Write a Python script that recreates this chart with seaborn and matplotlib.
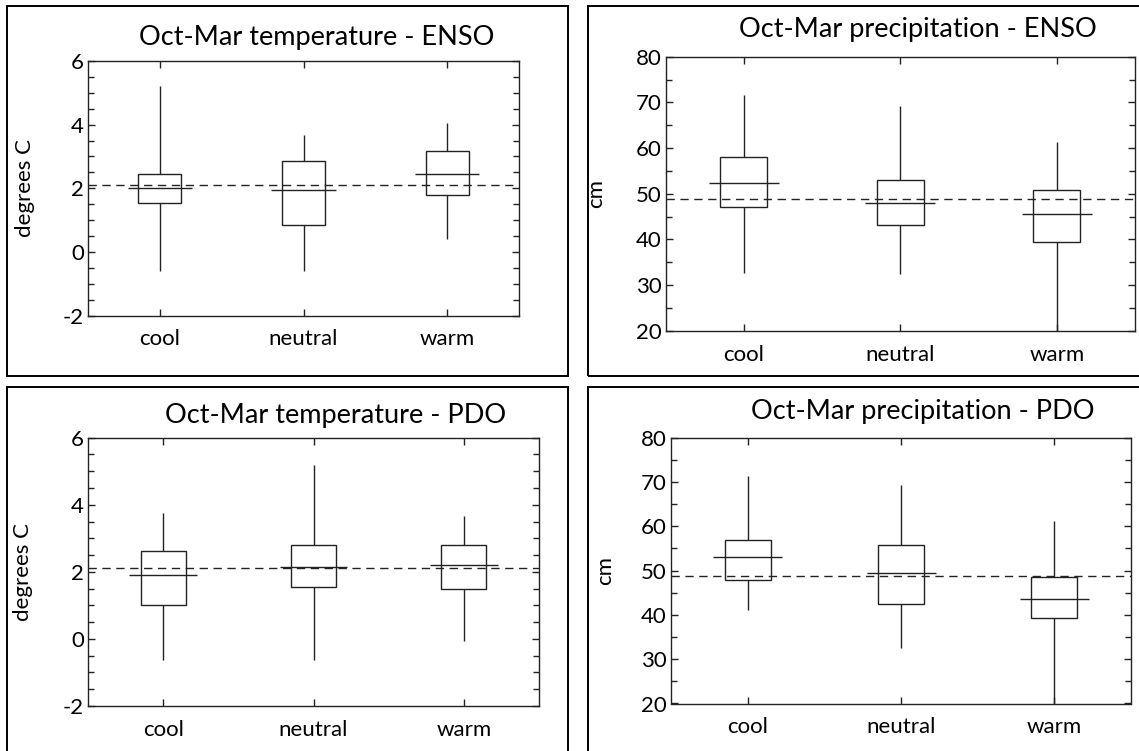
import numpy as np
import pandas as pd
import matplotlib
matplotlib.use("Agg")
import matplotlib.pyplot as plt
import seaborn as sns
from matplotlib.patches import Rectangle
from matplotlib.ticker import MultipleLocator

categories = ["cool", "neutral", "warm"]

# five-number summaries: whisker low, box low, centre line, box high, whisker high
temp_enso_lo = [-0.6, -0.6, 0.4]
temp_enso_q1 = [1.55, 0.84, 1.79]
temp_enso_med = [2.0, 1.95, 2.45]
temp_enso_q3 = [2.45, 2.87, 3.17]
temp_enso_hi = [5.2, 3.68, 4.05]

prcp_enso_lo = [32.7, 32.4, 18.0]
prcp_enso_q1 = [47.0, 43.1, 39.4]
prcp_enso_med = [52.4, 47.9, 45.5]
prcp_enso_q3 = [58.1, 53.1, 50.9]
prcp_enso_hi = [71.6, 69.3, 61.4]

temp_pdo_lo = [-0.63, -0.63, -0.06]
temp_pdo_q1 = [1.0, 1.55, 1.48]
temp_pdo_med = [1.9, 2.13, 2.21]
temp_pdo_q3 = [2.63, 2.8, 2.8]
temp_pdo_hi = [3.74, 5.18, 3.67]

prcp_pdo_lo = [41.2, 32.6, 18.0]
prcp_pdo_q1 = [47.8, 42.35, 39.2]
prcp_pdo_med = [53.0, 49.4, 43.6]
prcp_pdo_q3 = [57.0, 55.8, 48.5]
prcp_pdo_hi = [71.4, 69.3, 61.2]

temp_mean = 2.1
prcp_mean = 48.8

titles = ["Oct-Mar temperature - ENSO", "Oct-Mar precipitation - ENSO",
          "Oct-Mar temperature - PDO", "Oct-Mar precipitation - PDO"]
ylabels = ["degrees C", "cm", "degrees C", "cm"]

sns.set_theme(style="ticks")
plt.rcParams["font.family"] = ["Lato", "DejaVu Sans"]
plt.rcParams["axes.unicode_minus"] = False

W, H = 1139, 751
fig = plt.figure(figsize=(W / 100, H / 100), dpi=100)
fig.patch.set_facecolor("white")

# frames (pixels: x0, y0_top, x1, y1_bottom)
frames = [(7, 6, 568, 376), (588, 6, 1150, 376), (7, 387, 568, 760), (588, 387, 1150, 760)]
for x0, y0, x1, y1 in frames:
    fig.add_artist(Rectangle((x0 / W, 1 - y1 / H), (x1 - x0) / W, (y1 - y0) / H,
                             transform=fig.transFigure, fill=False, ec="black", lw=1.4))

# axes boxes in pixels: left, top, right, bottom
axboxes = [(88, 61, 519, 315.5), (665.5, 56.7, 1135, 330.7),
           (88, 437.7, 539, 706), (671, 437.7, 1131, 703.5)]
title_pos = [(317, 37), (918, 30), (336, 415), (923, 412)]
ylabel_x = [35, 606, 33, 615.5]

panels = [
    (temp_enso_lo, temp_enso_q1, temp_enso_med, temp_enso_q3, temp_enso_hi, temp_mean, (-2, 6), 2, 0.5),
    (prcp_enso_lo, prcp_enso_q1, prcp_enso_med, prcp_enso_q3, prcp_enso_hi, prcp_mean, (20, 80), 10, 5),
    (temp_pdo_lo, temp_pdo_q1, temp_pdo_med, temp_pdo_q3, temp_pdo_hi, temp_mean, (-2, 6), 2, 0.5),
    (prcp_pdo_lo, prcp_pdo_q1, prcp_pdo_med, prcp_pdo_q3, prcp_pdo_hi, prcp_mean, (20, 80), 10, 5),
]

lc = "#222222"
for i, (lo, q1, med, q3, hi, mean, ylim, maj, mnr) in enumerate(panels):
    l, t, r, b = axboxes[i]
    ax = fig.add_axes([l / W, 1 - b / H, (r - l) / W, (b - t) / H])
    rows = []
    for c, a, bq, m, d, e in zip(categories, lo, q1, med, q3, hi):
        for v in (a, bq, m, d, e):
            rows.append((c, v))
    df = pd.DataFrame(rows, columns=["cat", "val"])
    sns.boxplot(data=df, x="cat", y="val", order=categories, ax=ax, whis=(0, 100),
                width=0.3, color="white", linecolor=lc, linewidth=1.0,
                showcaps=False, medianprops={"visible": False})
    xpos = np.arange(len(categories))
    ax.hlines(med, xpos - 0.225, xpos + 0.225, color=lc, lw=1.0, zorder=4)
    ax.axhline(mean, color=lc, lw=1.0, ls=(0, (6, 4)), zorder=5)
    ax.set_xlim(-0.5, 2.5)
    ax.set_ylim(*ylim)
    ax.yaxis.set_major_locator(MultipleLocator(maj))
    ax.yaxis.set_minor_locator(MultipleLocator(mnr))
    ax.tick_params(axis="both", which="both", direction="in", colors=lc,
                   top=True, right=True, labelsize=16)
    ax.tick_params(axis="both", which="major", length=5, width=1.0)
    ax.tick_params(axis="y", which="minor", length=4, width=1.0)
    ax.tick_params(axis="x", which="minor", length=0)
    ax.tick_params(axis="x", pad=10)
    ax.tick_params(axis="y", pad=3)
    ax.tick_params(labelcolor="black")
    for s in ax.spines.values():
        s.set_color(lc)
        s.set_linewidth(1.0)
    ax.set_xlabel("")
    ax.set_ylabel(ylabels[i], fontsize=16, color="black")
    ax.yaxis.set_label_coords((ylabel_x[i] - l) / (r - l), 0.5)
    tx, ty = title_pos[i]
    fig.text(tx / W, 1 - ty / H, titles[i], ha="center", va="center", fontsize=19.5, color="black")

fig.savefig("out.png", dpi=100, facecolor="white")
